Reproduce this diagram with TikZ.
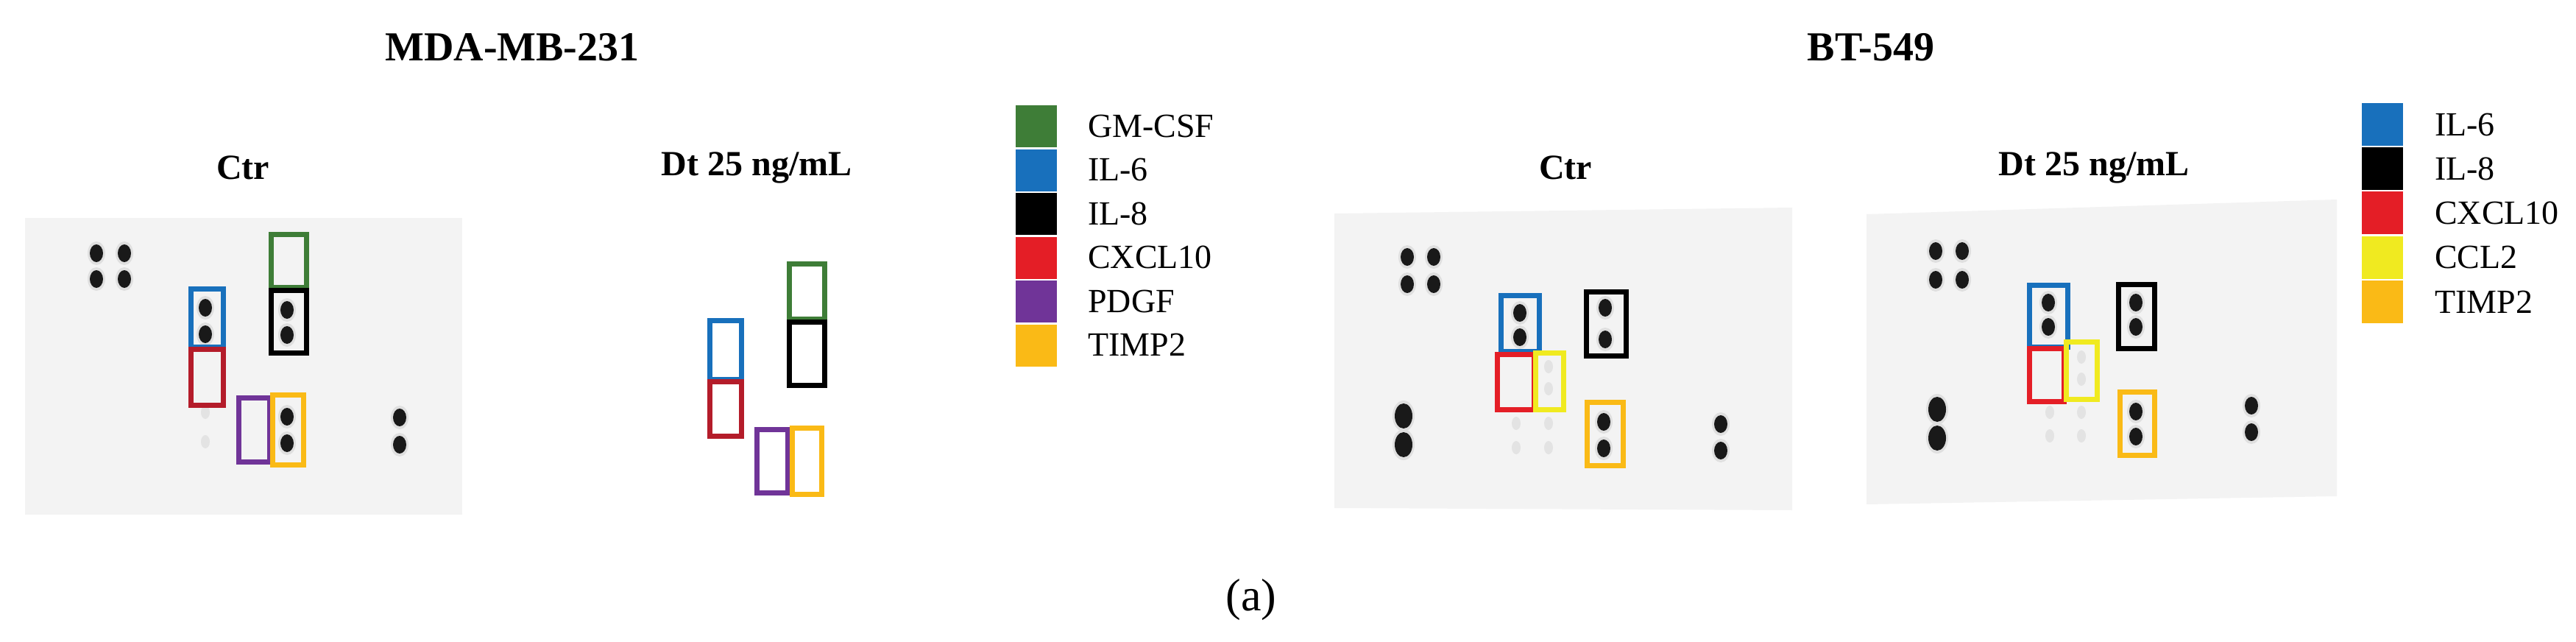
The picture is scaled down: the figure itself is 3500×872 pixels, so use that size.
\documentclass[tikz,border=0pt]{standalone}
\usepackage{fontspec}
\setmainfont{Liberation Serif}
\definecolor{cgreen}{RGB}{62,125,55}
\definecolor{cblue}{RGB}{24,112,188}
\definecolor{cred}{RGB}{228,30,38}
\definecolor{cdred}{RGB}{180,28,42}
\definecolor{cpurple}{RGB}{112,52,152}
\definecolor{corange}{RGB}{250,186,22}
\definecolor{cyellow}{RGB}{240,234,32}
\definecolor{blotbg}{RGB}{243,243,243}
\tikzset{
  ttl/.style={font=\fontsize{56}{60}\selectfont\bfseries},
  sub/.style={font=\fontsize{48}{52}\selectfont\bfseries},
  leg/.style={font=\fontsize{46}{50}\selectfont, anchor=west, inner sep=0pt},
  sbox/.style={line width=7pt},
  blot/.style={fill=blotbg, draw=none},
}
\newcommand{\spot}[2]{\fill[gray!25] (#1,#2) ellipse (12 and 16); \fill[black!90] (#1,#2) ellipse (9 and 12);}
\newcommand{\bigspot}[2]{\fill[gray!25] (#1,#2) ellipse (15 and 21); \fill[black!90] (#1,#2) ellipse (12 and 17);}
\newcommand{\faint}[2]{\fill[gray!22] (#1,#2) ellipse (6 and 9);}
\begin{document}
\begin{tikzpicture}[x=1pt,y=-1pt]
\useasboundingbox (0,0) rectangle (3500,872);
% titles
\node[ttl] (t1) at (696,64) {MDA-MB-231};
\node[ttl] (t2) at (2542,64) {BT-549};
\node[sub] (c1) at (330,228) {Ctr};
\node[sub] (d1) at (1028,228) {Dt 25 ng/mL};
\node[sub] (c2) at (2127,228) {Ctr};
\node[sub] (d2) at (2845,228) {Dt 25 ng/mL};
\node[font=\fontsize{62}{66}\selectfont] (lab) at (1700,815) {(a)};

% left blot
\fill[blot] (34,296) rectangle (628,699);
\spot{131}{344}\spot{169}{344}\spot{131}{379}\spot{169}{379}
\spot{279}{418}\spot{279}{454}
\spot{390}{421}\spot{390}{455}
\spot{390}{566}\spot{390}{602}
\spot{543}{567}\spot{543}{604}
\faint{279}{560}\faint{279}{600}
\draw[sbox,cgreen] (368,318) rectangle (416,390);
\draw[sbox,black] (368,394) rectangle (416,479);
\draw[sbox,cblue] (259,392) rectangle (303,471);
\draw[sbox,cdred] (259,474) rectangle (303,550);
\draw[sbox,cpurple] (324,540) rectangle (366,627);
\draw[sbox,corange] (370,536) rectangle (412,631);

% left Dt boxes
\draw[sbox,cgreen] (1072,358) rectangle (1120,433);
\draw[sbox,black] (1072,437) rectangle (1120,523);
\draw[sbox,cblue] (964,435) rectangle (1007,515);
\draw[sbox,cdred] (964,518) rectangle (1007,592);
\draw[sbox,cpurple] (1028,583) rectangle (1070,669);
\draw[sbox,corange] (1076,581) rectangle (1116,671);

% left legend
\foreach \c/\t [count=\i from 0] in {cgreen/GM-CSF,cblue/IL-6,black/IL-8,cred/CXCL10,cpurple/PDGF,corange/TIMP2}{
  \fill[\c] (1380,{143+59.5*\i}) rectangle (1436,{143+59.5*\i+57});
  \node[leg] (L\i) at (1478,{171+59.5*\i}) {\t};
}

% BT Ctr blot
\fill[blot] (1813,290) -- (2435,282) -- (2435,693) -- (1813,690) -- cycle;
\spot{1912}{349}\spot{1948}{349}\spot{1912}{386}\spot{1948}{386}
\spot{2065}{425}\spot{2065}{458}
\spot{2181}{418}\spot{2181}{461}
\spot{2179}{573}\spot{2179}{609}
\spot{2338}{576}\spot{2338}{612}
\bigspot{1907}{565}\bigspot{1907}{604}
\faint{2104}{498}\faint{2104}{528}\faint{2104}{575}\faint{2104}{608}\faint{2060}{575}\faint{2060}{608}
\draw[sbox,cblue] (2039,401) rectangle (2091,477);
\draw[sbox,black] (2155,396) rectangle (2209,483);
\draw[sbox,cred] (2034,481) rectangle (2084,556);
\draw[sbox,cyellow] (2086,479) rectangle (2124,556);
\draw[sbox,corange] (2156,546) rectangle (2205,632);

% BT Dt blot
\fill[blot] (2536,291) -- (3175,271) -- (3175,674) -- (2536,685) -- cycle;
\spot{2630}{341}\spot{2666}{341}\spot{2630}{380}\spot{2666}{380}
\spot{2783}{411}\spot{2783}{444}
\spot{2902}{411}\spot{2902}{444}
\spot{2902}{559}\spot{2902}{593}
\spot{3059}{551}\spot{3059}{587}
\bigspot{2632}{556}\bigspot{2632}{595}
\faint{2828}{485}\faint{2828}{515}\faint{2828}{560}\faint{2828}{592}\faint{2785}{560}\faint{2785}{592}
\draw[sbox,cblue] (2757,387) rectangle (2809,471);
\draw[sbox,black] (2878,386) rectangle (2927,473);
\draw[sbox,cred] (2757,473) rectangle (2804,545);
\draw[sbox,cyellow] (2807,464) rectangle (2849,542);
\draw[sbox,corange] (2880,532) rectangle (2927,618);

% right legend
\foreach \c/\t [count=\i from 0] in {cblue/IL-6,black/IL-8,cred/CXCL10,cyellow/CCL2,corange/TIMP2}{
  \fill[\c] (3209,{140+60.2*\i}) rectangle (3265,{140+60.2*\i+58});
  \node[leg] (R\i) at (3308,{169+60.2*\i}) {\t};
}
\end{tikzpicture}
\end{document}
